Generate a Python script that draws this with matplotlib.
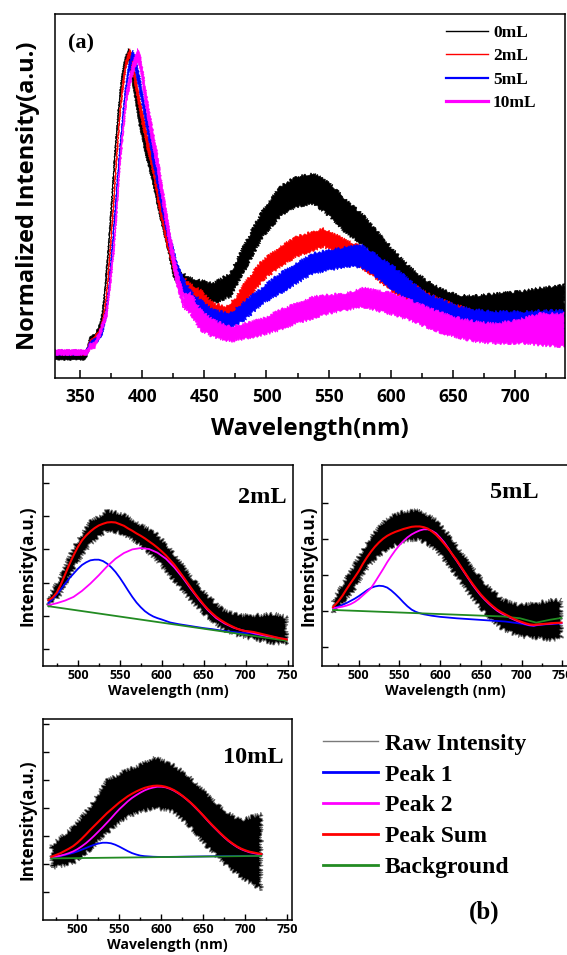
import numpy as np
import matplotlib
matplotlib.use('Agg')
import matplotlib.pyplot as plt
from matplotlib.lines import Line2D

W, H = 567, 955

SANS = ['Open Sans', 'DejaVu Sans']
SERIF = ['Liberation Serif', 'DejaVu Serif']

# ---------------- (a) normalized spectra, noisy band = lower/upper edge
wl_0 = [330, 354, 356, 358, 362, 366, 368, 370, 372.5, 375.5, 378, 381, 383.5, 386, 389, 391, 394, 398,
        403.5, 409, 414, 420, 425, 430, 437, 446, 457, 471, 484, 497, 511, 524, 538, 551, 564, 577,
        588, 602, 615, 628, 642, 655, 669, 682, 695, 707, 720, 740]
lo_0 = [-0.024, -0.024, -0.01, 0.03, 0.035, 0.065, 0.105, 0.185, 0.305, 0.475, 0.635, 0.785, 0.885, 0.945,
        0.975, 0.93, 0.85, 0.75, 0.645, 0.555, 0.455, 0.355, 0.255, 0.21, 0.19, 0.186, 0.164, 0.186,
        0.286, 0.385, 0.452, 0.485, 0.496, 0.452, 0.397, 0.36, 0.314, 0.252, 0.197, 0.164, 0.131,
        0.12, 0.109, 0.109, 0.115, 0.12, 0.12, 0.125]
hi_0 = [0.0, 0.0, 0.012, 0.055, 0.06, 0.095, 0.135, 0.215, 0.335, 0.505, 0.665, 0.815, 0.915, 0.975,
        1.01, 0.99, 0.91, 0.81, 0.695, 0.605, 0.505, 0.405, 0.305, 0.275, 0.25, 0.241, 0.23, 0.264,
        0.374, 0.474, 0.551, 0.585, 0.596, 0.563, 0.507, 0.46, 0.408, 0.341, 0.286, 0.241, 0.208,
        0.19, 0.19, 0.195, 0.2, 0.205, 0.215, 0.225]

wl_2 = [330, 355, 358, 363, 367, 370, 372.5, 375, 377, 379.5, 382, 384.5, 387, 390, 392, 395, 399, 404,
        409, 414, 420, 426, 431, 438, 447, 457, 468, 476, 484, 497, 511, 524, 538, 546, 564, 577, 590,
        602, 615, 628, 642, 655, 669, 682, 695, 707, 720, 740]
lo_2 = [-0.008, -0.008, 0.02, 0.04, 0.06, 0.12, 0.22, 0.36, 0.47, 0.63, 0.77, 0.87, 0.94, 0.985, 0.95,
        0.87, 0.78, 0.68, 0.59, 0.47, 0.36, 0.26, 0.21, 0.18, 0.153, 0.12, 0.114, 0.131, 0.175, 0.241,
        0.286, 0.319, 0.341, 0.352, 0.319, 0.28, 0.24, 0.2, 0.165, 0.135, 0.11, 0.09, 0.07, 0.055,
        0.045, 0.04, 0.035, 0.035]
hi_2 = [0.008, 0.008, 0.04, 0.06, 0.085, 0.15, 0.25, 0.39, 0.5, 0.66, 0.8, 0.9, 0.97, 1.01, 0.99, 0.92,
        0.83, 0.73, 0.64, 0.52, 0.41, 0.31, 0.26, 0.23, 0.208, 0.164, 0.153, 0.186, 0.241, 0.308,
        0.352, 0.385, 0.402, 0.413, 0.374, 0.35, 0.31, 0.27, 0.235, 0.2, 0.175, 0.155, 0.135, 0.125,
        0.12, 0.115, 0.12, 0.125]

wl_5 = [330, 355, 358, 364, 368, 371, 373.5, 376, 378.7, 381, 383.5, 386, 389, 392.5, 395, 398, 402, 407,
        412, 416.5, 422, 428, 434, 440, 447, 457, 471, 484, 497, 511, 524, 538, 551, 564, 577, 588,
        602, 615, 628, 642, 655, 669, 682, 695, 707, 720, 740]
lo_5 = [-0.008, -0.008, 0.015, 0.035, 0.06, 0.11, 0.2, 0.33, 0.47, 0.6, 0.72, 0.83, 0.92, 0.975, 0.93,
        0.87, 0.78, 0.67, 0.56, 0.46, 0.35, 0.25, 0.19, 0.16, 0.12, 0.098, 0.081, 0.114, 0.164, 0.197,
        0.23, 0.264, 0.275, 0.286, 0.283, 0.252, 0.208, 0.175, 0.142, 0.109, 0.086, 0.064, 0.053,
        0.053, 0.055, 0.05, 0.05]
hi_5 = [0.008, 0.008, 0.035, 0.055, 0.085, 0.14, 0.23, 0.36, 0.5, 0.63, 0.75, 0.86, 0.95, 1.005, 0.98,
        0.92, 0.83, 0.72, 0.61, 0.51, 0.4, 0.3, 0.24, 0.2, 0.175, 0.142, 0.131, 0.175, 0.219, 0.264,
        0.297, 0.33, 0.341, 0.352, 0.357, 0.325, 0.286, 0.241, 0.197, 0.175, 0.153, 0.142, 0.136,
        0.136, 0.136, 0.14, 0.14]

wl_10 = [330, 356, 358, 362, 366, 371.5, 374, 377, 379.5, 382, 385, 387.5, 390, 393, 396.5, 399, 401,
         406, 412, 417, 422.5, 428, 433, 439, 447, 457, 471, 484, 497, 511, 524, 538, 551, 564, 577,
         588, 602, 615, 628, 642, 655, 669, 682, 695, 707, 720, 740]
lo_10 = [-0.008, -0.008, 0.01, 0.015, 0.05, 0.115, 0.2, 0.31, 0.44, 0.6, 0.73, 0.83, 0.88, 0.93, 0.97,
         0.93, 0.87, 0.74, 0.61, 0.48, 0.34, 0.22, 0.15, 0.131, 0.075, 0.053, 0.037, 0.048, 0.059,
         0.075, 0.098, 0.114, 0.131, 0.142, 0.153, 0.142, 0.125, 0.109, 0.086, 0.064, 0.048, 0.037,
         0.031, 0.031, 0.031, 0.025, 0.02]
hi_10 = [0.01, 0.01, 0.03, 0.035, 0.075, 0.145, 0.235, 0.35, 0.48, 0.64, 0.77, 0.87, 0.92, 0.97, 1.01,
         0.98, 0.93, 0.8, 0.67, 0.54, 0.4, 0.28, 0.2, 0.198, 0.142, 0.109, 0.086, 0.098, 0.114, 0.142,
         0.164, 0.186, 0.192, 0.197, 0.215, 0.208, 0.197, 0.175, 0.153, 0.131, 0.114, 0.103, 0.097,
         0.103, 0.114, 0.13, 0.13]

labels_a = ['0mL', '2mL', '5mL', '10mL']
colors_a = ['black', 'red', 'blue', 'magenta']

# ---------------- (b) peak fits (arbitrary units)
# 2mL
raw2_x = [465, 479, 495, 515, 535, 554, 574, 594, 614, 634, 654, 674, 694, 714, 734, 749]
raw2_hi = [1.57, 2.17, 3.07, 3.85, 4.17, 4.07, 3.77, 3.47, 2.92, 2.22, 1.62, 1.17, 1.02, 1.02, 1.07, 0.97]
raw2_lo = [1.27, 1.62, 2.42, 3.15, 3.57, 3.47, 3.12, 2.67, 2.07, 1.47, 0.97, 0.57, 0.37, 0.27, 0.17, 0.17]
sum2_x = [465, 470, 475, 480, 485, 490, 495, 500, 505, 510, 515, 520, 525, 530, 535, 540, 545, 550, 555,
          560, 565, 570, 575, 580, 585, 590, 595, 600, 605, 610, 615, 620, 625, 630, 635, 640, 645, 650,
          655, 660, 665, 670, 675, 680, 685, 690, 695, 700, 705, 710, 715, 720, 725, 730, 735, 740, 745, 749]
sum2_y = [1.47, 1.55, 1.70, 1.95, 2.25, 2.55, 2.82, 3.07, 3.27, 3.42, 3.54, 3.64, 3.72, 3.77, 3.81, 3.82,
          3.81, 3.76, 3.71, 3.63, 3.56, 3.48, 3.41, 3.33, 3.24, 3.15, 3.05, 2.94, 2.82, 2.68, 2.54, 2.37,
          2.20, 2.02, 1.84, 1.66, 1.50, 1.34, 1.20, 1.08, 0.97, 0.88, 0.80, 0.73, 0.67, 0.61, 0.57, 0.54,
          0.53, 0.51, 0.48, 0.45, 0.42, 0.39, 0.36, 0.33, 0.31, 0.29]
p1_2_x = [465, 470, 475, 480, 485, 490, 495, 500, 505, 510, 515, 520, 525, 530, 535, 540, 545, 550, 555,
          560, 565, 570, 575, 580, 585, 590, 595, 600, 610, 620, 630, 640, 650, 660, 670, 680, 690, 700,
          705, 710, 720, 730, 740, 749]
p1_2_y = [1.39, 1.50, 1.65, 1.80, 1.97, 2.13, 2.27, 2.41, 2.53, 2.61, 2.67, 2.69, 2.69, 2.65, 2.57, 2.46,
          2.32, 2.15, 1.96, 1.76, 1.57, 1.40, 1.26, 1.14, 1.05, 0.98, 0.93, 0.89, 0.80, 0.75, 0.71, 0.67,
          0.63, 0.60, 0.56, 0.53, 0.50, 0.48, 0.49, 0.46, 0.42, 0.38, 0.33, 0.29]
p2_2_x = [465, 475, 485, 495, 505, 515, 525, 535, 545, 555, 565, 575, 585, 595, 605, 615, 625, 635, 645,
          655, 665, 675, 685, 695, 705, 715, 725, 735, 749]
p2_2_y = [1.32, 1.38, 1.46, 1.57, 1.75, 1.97, 2.22, 2.49, 2.72, 2.89, 3.00, 3.04, 3.01, 2.90, 2.72, 2.46,
          2.15, 1.80, 1.47, 1.17, 0.93, 0.77, 0.65, 0.57, 0.51, 0.45, 0.39, 0.34, 0.27]
bg2_x = [465, 749]
bg2_y = [1.29, 0.25]

# 5mL
raw5_x = [468.5, 493, 513.5, 534, 554, 575, 595, 616, 636, 657, 677, 698, 718, 738, 749]
raw5_hi = [1.31, 2.23, 3.01, 3.57, 3.75, 3.80, 3.52, 2.97, 2.32, 1.72, 1.31, 1.17, 1.22, 1.31, 1.31]
raw5_lo = [0.94, 1.54, 2.28, 2.69, 2.92, 2.97, 2.69, 2.09, 1.45, 0.89, 0.48, 0.29, 0.25, 0.20, 0.25]
sum5_x = [468.5, 475, 480, 485, 490, 495, 500, 505, 510, 515, 520, 525, 530, 535, 540, 545, 550, 555, 560,
          565, 570, 575, 580, 585, 590, 595, 600, 605, 610, 615, 620, 625, 630, 635, 640, 645, 650, 655,
          660, 665, 670, 675, 680, 685, 690, 695, 700, 705, 710, 715, 720, 730, 740, 749]
sum5_y = [1.11, 1.27, 1.42, 1.60, 1.77, 1.93, 2.10, 2.30, 2.48, 2.64, 2.78, 2.90, 3.00, 3.08, 3.14, 3.19,
          3.23, 3.27, 3.30, 3.33, 3.34, 3.34, 3.32, 3.28, 3.20, 3.11, 2.99, 2.86, 2.72, 2.57, 2.42, 2.25,
          2.08, 1.91, 1.75, 1.60, 1.46, 1.34, 1.23, 1.13, 1.04, 0.97, 0.91, 0.85, 0.79, 0.74, 0.70, 0.66,
          0.63, 0.62, 0.63, 0.65, 0.67, 0.68]
p1_5_x = [468.5, 475, 480, 485, 490, 495, 500, 505, 510, 515, 520, 525, 530, 535, 540, 545, 550, 555, 560,
          565, 570, 575, 580, 590, 600, 620, 640, 660, 680, 700, 710, 715, 722, 735, 749]
p1_5_y = [1.08, 1.12, 1.17, 1.22, 1.28, 1.34, 1.41, 1.49, 1.57, 1.64, 1.68, 1.70, 1.69, 1.65, 1.57, 1.47,
          1.36, 1.24, 1.13, 1.04, 0.98, 0.94, 0.91, 0.87, 0.84, 0.80, 0.77, 0.74, 0.71, 0.65, 0.60, 0.59,
          0.62, 0.64, 0.66]
p2_5_x = [468.5, 475, 480, 485, 490, 495, 500, 505, 510, 515, 520, 525, 530, 535, 540, 545, 550, 555, 560,
          565, 570, 575, 580, 585, 590, 595, 600, 605, 610, 615, 620, 625, 630, 635, 640, 645, 650, 655,
          660, 665, 670, 675, 680, 685, 690, 695, 700, 705, 710, 715, 720, 730, 740, 749]
p2_5_y = [1.08, 1.10, 1.12, 1.15, 1.19, 1.25, 1.33, 1.43, 1.53, 1.63, 1.80, 1.98, 2.16, 2.35, 2.52, 2.68,
          2.82, 2.94, 3.04, 3.12, 3.18, 3.23, 3.26, 3.26, 3.22, 3.15, 3.03, 2.90, 2.74, 2.56, 2.40, 2.23,
          2.06, 1.89, 1.72, 1.57, 1.43, 1.31, 1.20, 1.10, 1.01, 0.94, 0.88, 0.82, 0.77, 0.72, 0.68, 0.64,
          0.61, 0.60, 0.62, 0.64, 0.66, 0.67]
bg5_x = [468.5, 677.5, 698, 718, 735, 749]
bg5_y = [1.03, 0.85, 0.80, 0.68, 0.76, 0.81]

# 10mL
raw10_x = [469, 495, 515, 535, 554, 574, 592, 614, 634, 654, 674, 694, 719]
raw10_hi = [1.68, 2.33, 3.05, 4.0, 4.3, 4.54, 4.83, 4.54, 4.12, 3.52, 2.93, 2.57, 2.8]
raw10_lo = [0.85, 1.02, 1.5, 2.1, 2.57, 2.87, 2.99, 2.87, 2.33, 1.62, 1.02, 0.55, 0.07]
sum10_x = [469, 475, 480, 485, 490, 495, 500, 505, 510, 515, 520, 525, 530, 535, 540, 545, 550, 555, 560,
           565, 570, 575, 580, 585, 590, 595, 600, 605, 610, 615, 620, 625, 630, 635, 640, 645, 650, 655,
           660, 665, 670, 675, 680, 685, 690, 695, 700, 705, 710, 715, 719]
sum10_y = [1.26, 1.33, 1.39, 1.47, 1.55, 1.64, 1.76, 1.90, 2.05, 2.21, 2.36, 2.51, 2.66, 2.81, 2.94, 3.07,
           3.20, 3.31, 3.42, 3.51, 3.59, 3.66, 3.72, 3.76, 3.79, 3.80, 3.79, 3.76, 3.71, 3.64, 3.55, 3.44,
           3.32, 3.19, 3.05, 2.89, 2.73, 2.57, 2.41, 2.26, 2.11, 1.97, 1.84, 1.73, 1.63, 1.55, 1.49, 1.44,
           1.41, 1.38, 1.36]
p1_10_x = [469, 475, 480, 485, 490, 495, 500, 505, 510, 515, 520, 525, 530, 535, 540, 545, 550, 555, 560,
           565, 570, 575, 580, 590, 600, 719]
p1_10_y = [1.24, 1.26, 1.29, 1.32, 1.36, 1.40, 1.45, 1.51, 1.57, 1.63, 1.69, 1.73, 1.76, 1.76, 1.74, 1.69,
           1.62, 1.54, 1.46, 1.39, 1.34, 1.30, 1.28, 1.26, 1.25, 1.30]
p2_10_x = sum10_x
p2_10_y = [1.24, 1.27, 1.30, 1.34, 1.39, 1.45, 1.53, 1.63, 1.74, 1.87, 2.01, 2.16, 2.31, 2.47, 2.63, 2.80,
           2.96, 3.10, 3.24, 3.36, 3.46, 3.55, 3.63, 3.69, 3.73, 3.76, 3.76, 3.74, 3.69, 3.62, 3.53, 3.43,
           3.31, 3.18, 3.03, 2.88, 2.72, 2.55, 2.39, 2.24, 2.09, 1.95, 1.82, 1.71, 1.61, 1.53, 1.47, 1.42,
           1.39, 1.36, 1.34]
bg10_x = [469, 719]
bg10_y = [1.20, 1.29]

fit_labels = ['Raw Intensity', 'Peak 1', 'Peak 2', 'Peak Sum', 'Background']
RAW_EDGE = '#6e6e6e'
C_P1, C_P2, C_SUM, C_BG = '#0000ff', '#ff00ff', '#ff0000', '#228b22'

plt.rcParams['font.family'] = SANS
plt.rcParams['font.weight'] = 'bold'
plt.rcParams['axes.labelweight'] = 'bold'
plt.rcParams['axes.linewidth'] = 1.1


def box(l, t, r, b):
    return [l / W, 1 - b / H, (r - l) / W, (b - t) / H]


def noisy(ax, x, lo, hi, face, edge, lw=0.6, scale=1.5, length=2.0):
    x = np.asarray(x, float)
    xs = np.concatenate([x, x[::-1]])
    ys = np.concatenate([np.asarray(hi, float), np.asarray(lo, float)[::-1]])
    poly = ax.fill(xs, ys, facecolor=face, edgecolor=edge, lw=lw)[0]
    poly.set_sketch_params(scale, length, 4)
    return poly


fig = plt.figure(figsize=(W / 100, H / 100), dpi=100)

# ---------------- panel (a)
ax = fig.add_axes(box(55, 14, 565, 378))
series = [(wl_0, lo_0, hi_0), (wl_2, lo_2, hi_2), (wl_5, lo_5, hi_5), (wl_10, lo_10, hi_10)]
for (x, lo, hi), c in zip(series, colors_a):
    # sharp UV peak drawn almost clean, broad visible band drawn noisier
    k = next(i for i, v in enumerate(x) if v >= 430)
    noisy(ax, x[:k + 1], lo[:k + 1], hi[:k + 1], c, c, lw=0.5, scale=0.5, length=2.0)
    noisy(ax, x[k:], lo[k:], hi[k:], c, c, lw=0.5, scale=1.4, length=1.5)
ax.set_xlim(330, 740)
ax.set_ylim(-0.084, 1.125)
ax.set_xticks(np.arange(350, 701, 50))
ax.set_xticks(np.arange(375, 740, 50), minor=True)
ax.set_yticks([])
ax.tick_params(axis='x', which='both', direction='in')
ax.tick_params(axis='x', which='major', length=6, width=1.1, labelsize=12.5, pad=7)
ax.tick_params(axis='x', which='minor', length=3.5, width=1.1)
ax.set_xlabel('Wavelength(nm)', fontsize=17.3, labelpad=8)
ax.set_ylabel('Normalized Intensity(a.u.)', fontsize=17, labelpad=11)
ax.text(0.026, 0.918, '(a)', transform=ax.transAxes, family=SERIF, fontsize=16,
        fontweight='bold', va='center', ha='left')
handles_a = [Line2D([], [], color=c, lw=w) for c, w in zip(colors_a, [1.0, 1.0, 1.6, 2.3])]
ax.legend(handles_a, labels_a, loc='upper left', bbox_to_anchor=(446 / W, 1 - 25 / H),
          bbox_transform=fig.transFigure, frameon=False, borderpad=0, borderaxespad=0,
          handlelength=2.41, handletextpad=0.3, labelspacing=0.41,
          prop={'family': SERIF, 'weight': 'bold', 'size': 12.5})


# ---------------- panels (b)
def fit_panel(rect, xlim, ylim, yticks, raw, p1, p2, bg, tot, tag, tagx, tagy, ylpad):
    a = fig.add_axes(rect)
    noisy(a, raw[0], raw[1], raw[2], 'black', RAW_EDGE, lw=0.6, scale=2.0, length=1.5)
    l1, = a.plot(p1[0], p1[1], color=C_P1, lw=1.3)
    l2, = a.plot(p2[0], p2[1], color=C_P2, lw=1.3)
    lb, = a.plot(bg[0], bg[1], color=C_BG, lw=1.3)
    ls, = a.plot(tot[0], tot[1], color=C_SUM, lw=1.5)
    a.set_xlim(*xlim)
    a.set_ylim(*ylim)
    a.set_xticks(np.arange(500, 751, 50))
    a.set_xticks(np.arange(475, 751, 50), minor=True)
    a.set_yticks(yticks)
    a.set_yticklabels([])
    a.tick_params(which='both', direction='in', width=1.0)
    a.tick_params(which='major', length=4, labelsize=9, pad=2)
    a.tick_params(which='minor', length=2.5)
    a.set_xlabel('Wavelength (nm)', fontsize=10.2, labelpad=1.5)
    a.set_ylabel('Intensity(a.u.)', fontsize=12.4, labelpad=ylpad)
    a.text(tagx, tagy, tag, transform=a.transAxes, family=SERIF, fontsize=17.5,
           fontweight='bold', ha='right', va='baseline')
    return l1, l2, ls, lb


l1, l2, ls, lb = fit_panel(box(43, 465, 293, 666), (458.6, 756.4), (-0.51, 5.54), [0, 1, 2, 3, 4, 5],
                           (raw2_x, raw2_lo, raw2_hi), (p1_2_x, p1_2_y), (p2_2_x, p2_2_y),
                           (bg2_x, bg2_y), (sum2_x, sum2_y), '2mL', 0.976, 0.811, 2.5)
fit_panel(box(322, 465, 568, 666), (455, 757), (-0.52, 5.04), [0, 1, 2, 3, 4],
          (raw5_x, raw5_lo, raw5_hi), (p1_5_x, p1_5_y), (p2_5_x, p2_5_y),
          (bg5_x, bg5_y), (sum5_x, sum5_y), '5mL', 0.882, 0.836, 1)
fit_panel(box(43, 719, 292, 920), (459, 755.6), (-1.0, 6.18), [0, 1, 2, 3, 4, 5, 6],
          (raw10_x, raw10_lo, raw10_hi), (p1_10_x, p1_10_y), (p2_10_x, p2_10_y),
          (bg10_x, bg10_y), (sum10_x, sum10_y), '10mL', 0.968, 0.783, 2.5)

raw_handle = Line2D([], [], color='#7a7a7a', lw=1.0)
leg_b = fig.legend([raw_handle, l1, l2, ls, lb], fit_labels, loc='upper left',
                   bbox_to_anchor=(323 / W, 1 - 733 / H), frameon=False, borderpad=0,
                   borderaxespad=0, handlelength=2.33, handletextpad=0.3, labelspacing=0.40,
                   prop={'family': SERIF, 'weight': 'bold', 'size': 17})
for h in leg_b.legend_handles[1:]:
    h.set_linewidth(2.0)

fig.text(484 / W, 1 - 912 / H, '(b)', family=SERIF, fontsize=18, fontweight='bold',
         ha='center', va='center')

fig.savefig('out.png', dpi=100)
